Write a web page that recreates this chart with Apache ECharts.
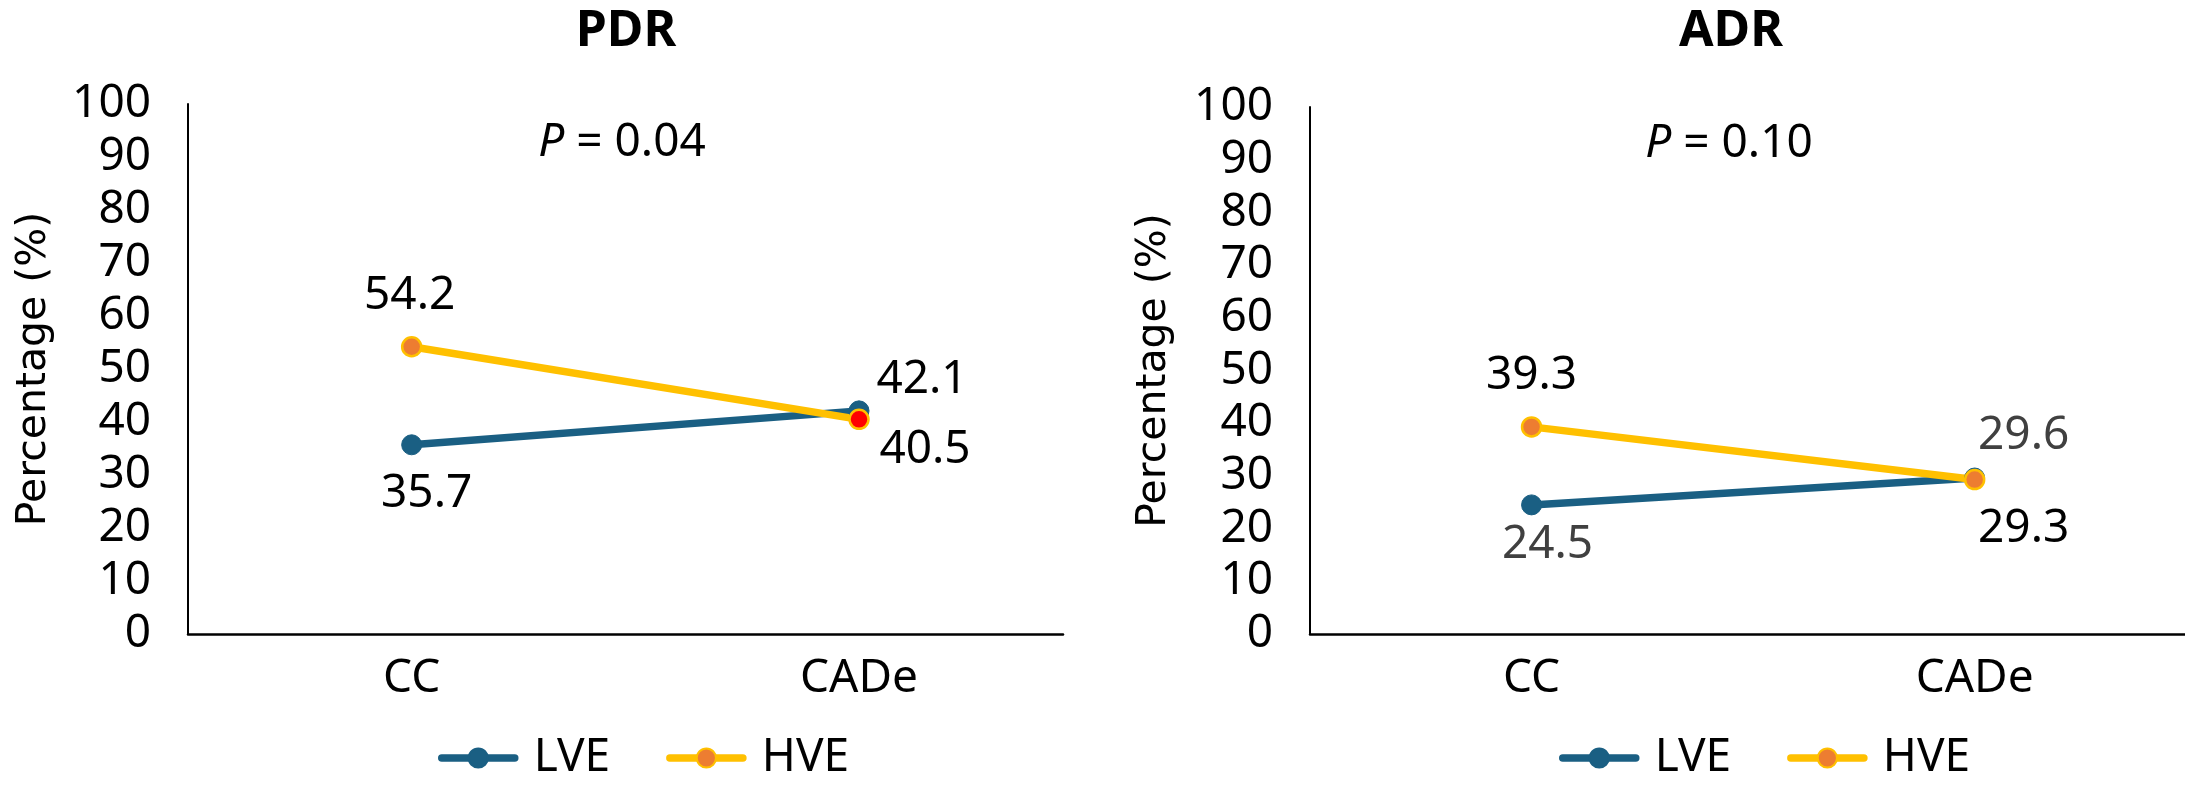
<!DOCTYPE html>
<html>
<head>
<meta charset="utf-8">
<script src="https://cdn.jsdelivr.net/npm/echarts@6/dist/echarts.min.js"></script>
<style>
  html, body { margin: 0; padding: 0; background: #fff; }
  #chart { width: 2185px; height: 792px; }
</style>
</head>
<body>
<div id="chart"></div>
<script>
// data
const categories = ['CC', 'CADe'];
const panelTitles = ['PDR', 'ADR'];
const pValues = ['0.04', '0.10'];
const pdrLVE = [35.7, 42.1];
const pdrHVE = [54.2, 40.5];
const adrLVE = [24.5, 29.6];
const adrHVE = [39.3, 29.3];

const font = "'Noto Sans', 'DejaVu Sans', sans-serif";
const blue = '#1A5F83';
const yellow = '#FFC000';
const orange = '#ED7D31';

const chart = echarts.init(document.getElementById('chart'));

// label offsets (label centre relative to point), per panel / series / point
const offsets = {
    pdrLVE: [[15, 49], [63, -31]],
    pdrHVE: [[-2, -51], [66, 31]],
    adrLVE: [[16, 40], [49, -42]],
    adrHVE: [[0, -51], [49, 49]]
};

function makeSeries(name, values, idx, offs, labelColor, isHve, redIndex) {
    return {
        type: 'line',
        name: name,
        xAxisIndex: idx,
        yAxisIndex: idx,
        symbol: 'circle',
        symbolSize: isHve ? 19 : 20,
        lineStyle: { color: isHve ? yellow : blue, width: 7.5 },
        itemStyle: {
            color: isHve ? orange : blue,
            borderColor: isHve ? yellow : blue,
            borderWidth: isHve ? 2.5 : 1
        },
        emphasis: { disabled: true },
        label: {
            show: true,
            position: 'inside',
            fontSize: 46,
            fontFamily: font,
            color: labelColor,
            textBorderWidth: 0,
            formatter: p => p.value[1].toFixed(1)
        },
        data: values.map((v, i) => {
            const item = { value: [i, v], label: { offset: offs[i] } };
            if (i === redIndex) item.itemStyle = { color: '#FF0000' };
            return item;
        })
    };
}

function xAxis(idx, max) {
    return {
        gridIndex: idx,
        type: 'value',
        min: -0.5,
        max: max,
        interval: 0.5,
        axisLine: { onZero: false, lineStyle: { color: '#000', width: 2.5 } },
        axisTick: { show: false },
        splitLine: { show: false },
        axisLabel: {
            fontSize: 46,
            fontFamily: font,
            color: '#000',
            margin: 22,
            showMinLabel: false,
            showMaxLabel: false,
            formatter: v => Number.isInteger(v) && categories[v] ? categories[v] : ''
        }
    };
}

function yAxis(idx, gap) {
    return {
        gridIndex: idx,
        type: 'value',
        min: 0,
        max: 100,
        interval: 10,
        name: 'Percentage (%)',
        nameLocation: 'middle',
        nameGap: gap,
        nameTextStyle: { fontSize: 41, fontFamily: "'DejaVu Sans', sans-serif", color: '#000' },
        axisLine: { show: true, onZero: false, lineStyle: { color: '#000', width: 2 } },
        axisTick: { show: false },
        splitLine: { show: false },
        axisLabel: { fontSize: 46, fontFamily: font, color: '#000', margin: 37 }
    };
}

function legend(left) {
    return {
        left: left,
        top: 730,
        data: ['LVE', 'HVE'],
        itemWidth: 73,
        itemHeight: 24,
        itemGap: 56,
        lineStyle: { width: 7.5, cap: 'round' },
        textStyle: { fontSize: 46, fontFamily: font, color: '#000', padding: [0, 0, 0, 14] }
    };
}

function titleText(x, y, text, bold) {
    return {
        type: 'text',
        x: x,
        y: y,
        style: {
            text: text,
            fontSize: bold ? 50 : 46,
            fontWeight: bold ? 'bold' : 'normal',
            fontFamily: font,
            fill: '#000',
            align: 'center',
            verticalAlign: 'middle',
            rich: { i: { fontStyle: 'italic', fontSize: 46, fontFamily: font, fill: '#000' } }
        }
    };
}

const option = {
    animation: false,
    backgroundColor: '#fff',
    graphic: [
        titleText(626, 32, panelTitles[0], true),
        titleText(1731, 32, panelTitles[1], true),
        titleText(622, 143, '{i|P} = ' + pValues[0], false),
        titleText(1729, 144, '{i|P} = ' + pValues[1], false)
    ],
    legend: [legend(433), legend(1554)],
    grid: [
        { left: 188, top: 104, width: 875, height: 530, outerBoundsMode: 'none' },
        { left: 1310, top: 107, width: 880, height: 527, outerBoundsMode: 'none' }
    ],
    xAxis: [xAxis(0, 1.456), xAxis(1, 1.486)],
    yAxis: [yAxis(0, 133), yAxis(1, 135)],
    series: [
        makeSeries('LVE', pdrLVE, 0, offsets.pdrLVE, '#000', false, -1),
        makeSeries('HVE', pdrHVE, 0, offsets.pdrHVE, '#000', true, 1),
        makeSeries('LVE', adrLVE, 1, offsets.adrLVE, '#404040', false, -1),
        makeSeries('HVE', adrHVE, 1, offsets.adrHVE, '#000', true, -1)
    ]
};

chart.setOption(option);
</script>
</body>
</html>
